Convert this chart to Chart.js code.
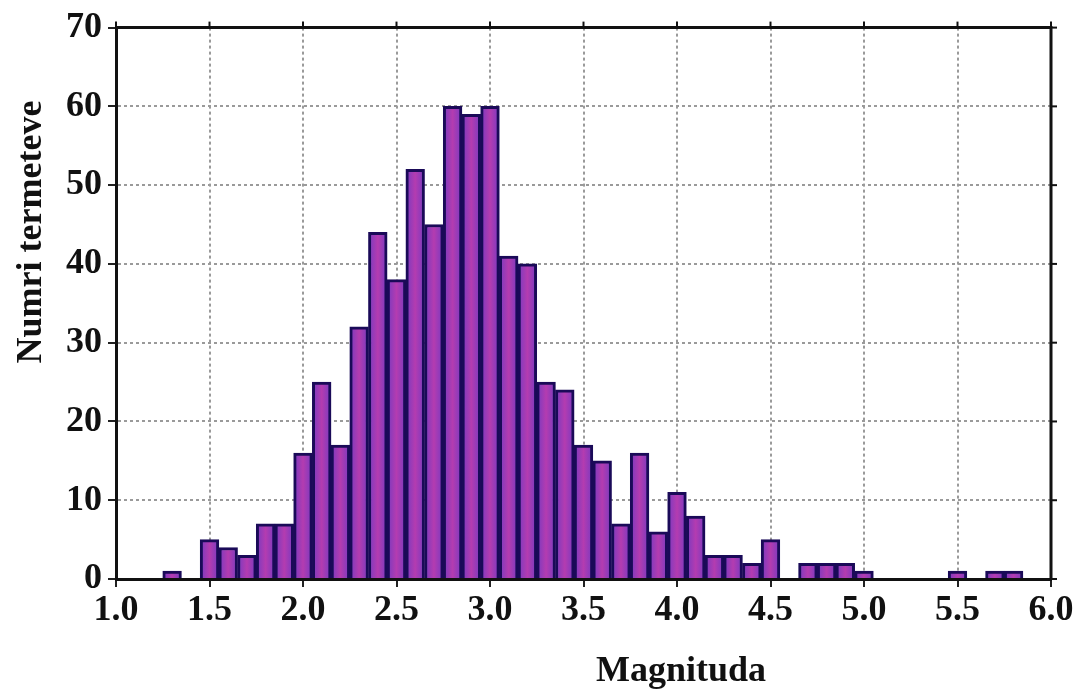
<!DOCTYPE html>
<html>
<head>
<meta charset="utf-8">
<script src="https://cdn.jsdelivr.net/npm/chart.js@4"></script>
<style>
  html, body { margin: 0; padding: 0; background: #fff; }
  #wrap { width: 1079px; height: 694px; }
</style>
</head>
<body>
<div id="wrap"><canvas id="histCanvas" width="1079" height="694"></canvas></div>
<script>
// bin centres (magnitude) and number of earthquakes in each bin
const magnitudes = [1.3, 1.5, 1.6, 1.7, 1.8, 1.9, 2.0, 2.1, 2.2, 2.3, 2.4, 2.5, 2.6, 2.7, 2.8, 2.9,
    3.0, 3.1, 3.2, 3.3, 3.4, 3.5, 3.6, 3.7, 3.8, 3.9, 4.0, 4.1, 4.2, 4.3, 4.4, 4.5,
    4.7, 4.8, 4.9, 5.0, 5.5, 5.7, 5.8]
const counts = [1, 5, 4, 3, 7, 7, 16, 25, 17, 32, 44, 38, 52, 45, 60, 59,
    60, 41, 40, 25, 24, 17, 15, 7, 16, 6, 11, 8, 3, 3, 2, 5,
    2, 2, 2, 1, 1, 1, 1]

const xTitle = "Magnituda"
const yTitle = "Numri termeteve"
const serif = '"Liberation Serif", "Times New Roman", serif'

// draws the top/right frame, outer ticks and the two axis titles
const framePlugin = {
    id: "frame",
    afterDraw(chart) {
        const c = chart.ctx
        const a = chart.chartArea
        c.save()
        c.strokeStyle = "#111"
        c.lineWidth = 3
        c.beginPath()
        c.moveTo(a.left, a.top)
        c.lineTo(a.right, a.top)
        c.lineTo(a.right, a.bottom)
        c.stroke()
        c.lineWidth = 2
        chart.scales.x.ticks.forEach(t => {
            const px = chart.scales.x.getPixelForValue(t.value)
            c.beginPath(); c.moveTo(px, a.top); c.lineTo(px, a.top - 6); c.stroke()
        })
        chart.scales.y.ticks.forEach(t => {
            const py = chart.scales.y.getPixelForValue(t.value)
            c.beginPath(); c.moveTo(a.right, py); c.lineTo(a.right + 6, py); c.stroke()
        })
        c.fillStyle = "#111"
        c.font = "bold 36px " + serif
        c.textAlign = "center"
        c.textBaseline = "middle"
        c.fillText(xTitle, 681, 672)
        c.translate(32, 232)
        c.rotate(-Math.PI / 2)
        c.fillText(yTitle, 0, 0)
        c.restore()
    }
}

// purple bar with a pinkish centre stripe
function barFill(ctx) {
    const ch = ctx.chart
    const sx = ch.scales && ch.scales.x
    if (!sx || ctx.dataIndex === undefined) return "#9a3fc4"
    const px = sx.getPixelForValue(magnitudes[ctx.dataIndex])
    if (!isFinite(px)) return "#9a3fc4"
    const g = ch.ctx.createLinearGradient(px - 9, 0, px + 9, 0)
    g.addColorStop(0, "#7a3ac0")
    g.addColorStop(0.5, "#b43cb0")
    g.addColorStop(1, "#7a3ac0")
    return g
}

const canvas = document.getElementById("histCanvas")
const histChart = new Chart(canvas, {
    type: "bar",
    data: {
        datasets: [{
            data: magnitudes.map((m, i) => ({x: m, y: counts[i]})),
            backgroundColor: barFill,
            borderColor: "#1a0a58",
            borderWidth: 3,
            barPercentage: 1,
            categoryPercentage: 1
        }]
    },
    options: {
        responsive: false,
        animation: false,
        layout: {padding: {top: 23, right: 28, left: 0, bottom: 0}},
        plugins: {legend: {display: false}, tooltip: {enabled: false}},
        scales: {
            x: {
                type: "linear",
                min: 1, max: 6,
                offset: false,
                afterFit: s => { s.height = 115 },
                ticks: {
                    stepSize: 0.5, autoSkip: false, maxRotation: 0, padding: 2,
                    color: "#111", font: {family: serif, size: 36, weight: "bold"},
                    callback: v => v.toFixed(1)
                },
                grid: {offset: false, color: "#9a9a9a", lineWidth: 2, tickLength: 8, tickColor: "#222", tickWidth: 2},
                border: {color: "#111", width: 3, dash: [3, 3]}
            },
            y: {
                min: 0, max: 70,
                afterFit: s => { s.width = 116 },
                ticks: {
                    stepSize: 10, padding: 6,
                    color: "#111", font: {family: serif, size: 36, weight: "bold"}
                },
                grid: {color: "#9a9a9a", lineWidth: 2, tickLength: 8, tickColor: "#222", tickWidth: 2},
                border: {color: "#111", width: 3, dash: [3, 3]}
            }
        }
    },
    plugins: [framePlugin]
})
</script>
</body>
</html>
